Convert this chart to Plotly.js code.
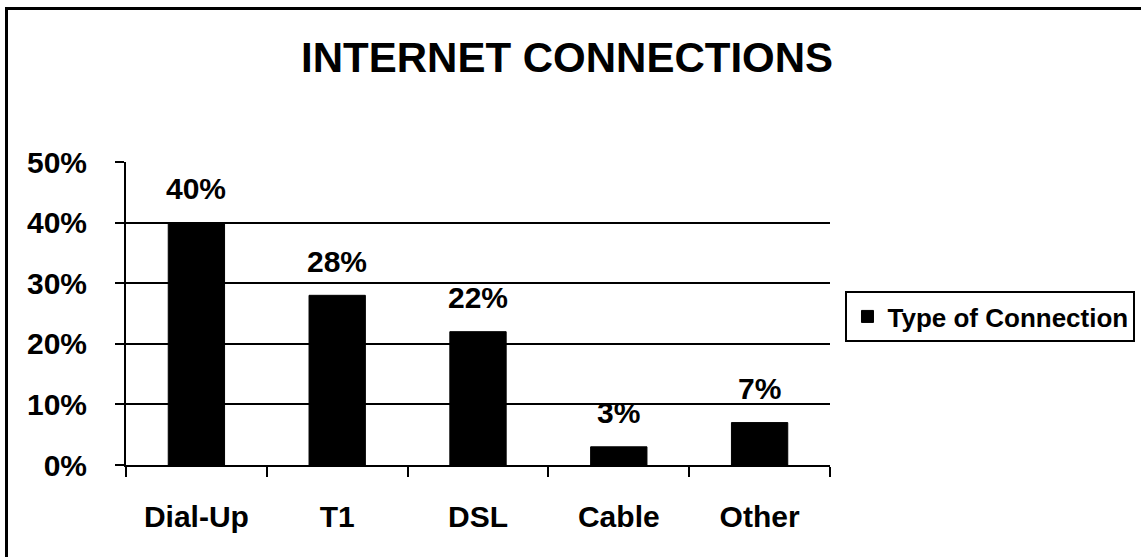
<!DOCTYPE html>
<html>
<head>
<meta charset="utf-8">
<script src="https://cdn.plot.ly/plotly-3.0.1.min.js"></script>
<style>
html,body{margin:0;padding:0;background:#fff;}
#chart{position:absolute;left:0;top:0;width:1141px;height:557px;}
#frame{position:absolute;left:5px;top:7px;width:1140px;height:560px;border-left:3px solid #000;border-top:3px solid #000;pointer-events:none;}
</style>
</head>
<body>
<div id="chart"></div>
<div id="frame"></div>
<script>
const categories = ["Dial-Up", "T1", "DSL", "Cable", "Other"];
const values = [40, 28, 22, 3, 7];
const valueLabels = ["40%", "28%", "22%", "3%", "7%"];
const seriesName = "Type of Connection";
const yTickVals = [0, 10, 20, 30, 40, 50];
const yTickText = ["0%", "10%", "20%", "30%", "40%", "50%"];

const font = "Arial, 'Liberation Sans', sans-serif";

const trace = {
  type: "bar",
  x: categories,
  y: values,
  name: "<b>" + seriesName + "</b>",
  width: 0.4,
  marker: {color: "#000000", line: {color: "#000000", width: 1}},
  hoverinfo: "skip",
  showlegend: true
};

const annotations = categories.map((c, i) => ({
  x: c, y: values[i], xref: "x", yref: "y",
  text: "<b>" + valueLabels[i] + "</b>", showarrow: false,
  yanchor: "middle", yshift: 34,
  font: {family: font, size: 30, color: "#000"}
}));

const layout = {
  width: 1141, height: 557,
  paper_bgcolor: "#ffffff", plot_bgcolor: "#ffffff",
  margin: {l: 126, r: 311, t: 162, b: 92, autoexpand: false},
  title: {text: "<b>INTERNET CONNECTIONS</b>", x: 0.497, xanchor: "center", y: 0.897, yanchor: "middle",
          font: {family: font, size: 42, color: "#000"}},
  xaxis: {
    type: "category", tickson: "boundaries", ticks: "outside", ticklen: 10, tickwidth: 2, tickcolor: "#000",
    showline: true, linecolor: "#000", linewidth: 2, showgrid: false, automargin: false,
    tickfont: {family: font, size: 30, color: "#000"}, ticklabelstandoff: 24,
    tickprefix: "<b>", ticksuffix: "</b>", range: [-0.5, 4.5]
  },
  yaxis: {
    range: [0, 50], tickvals: yTickVals, ticktext: yTickText.map(t => "<b>" + t + "</b>"),
    ticks: "outside", ticklen: 9, tickwidth: 2, tickcolor: "#000",
    showline: true, linecolor: "#000", linewidth: 2, automargin: false,
    showgrid: true, gridcolor: "#000", gridwidth: 2, zeroline: false,
    tickfont: {family: font, size: 30, color: "#000"}, ticklabelstandoff: 22
  },
  legend: {
    x: 1.022, xanchor: "left", y: 0.49, yanchor: "middle",
    bordercolor: "#000", borderwidth: 2, bgcolor: "#fff",
    font: {family: font, size: 26, color: "#000"},
    itemwidth: 30
  },
  showlegend: true,
  annotations: annotations
};

Plotly.newPlot("chart", [trace], layout, {displayModeBar: false, staticPlot: true});
</script>
</body>
</html>
